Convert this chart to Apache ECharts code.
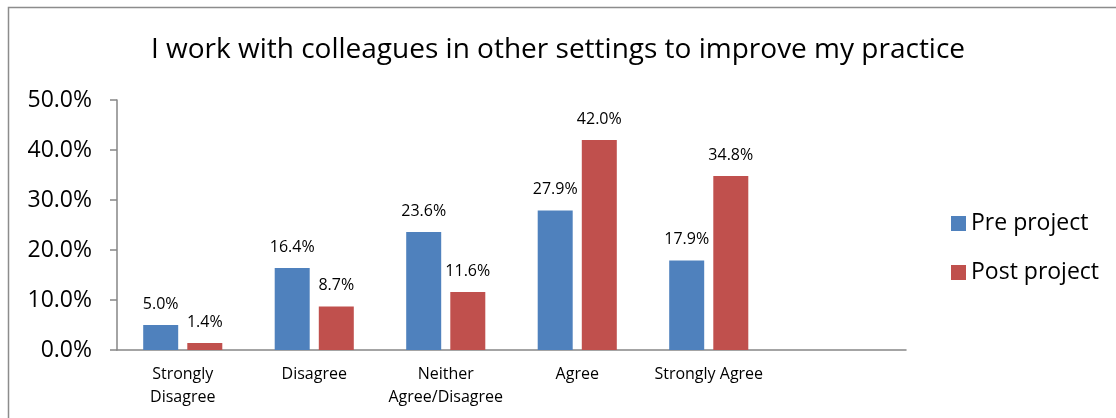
<!DOCTYPE html>
<html><head><meta charset="utf-8">
<script src="https://cdn.jsdelivr.net/npm/echarts@6/dist/echarts.min.js"></script>
<style>html,body{margin:0;padding:0;background:#fff}#c{width:1116px;height:418px}</style>
</head><body><div id="c"></div>
<script>
const categories = ['Strongly\nDisagree', 'Disagree', 'Neither\nAgree/Disagree', 'Agree', 'Strongly Agree', ''];
const preProject = [5.0, 16.4, 23.6, 27.9, 17.9];
const postProject = [1.4, 8.7, 11.6, 42.0, 34.8];
const yTicks = { min: 0, max: 50, interval: 10 };
const titleText = 'I work with colleagues in other settings to improve my practice';

const FONT = 'Open Sans';
const chart = echarts.init(document.getElementById('c'), null, { renderer: 'canvas' });
const labelOpt = {
  show: true, position: 'top', distance: 13,
  fontFamily: FONT, fontSize: 16, color: '#000',
  formatter: p => p.value.toFixed(1) + '%'
};
chart.setOption({
  animation: false,
  graphic: [{
    type: 'rect', shape: { x: 8.5, y: 7.5, width: 1300, height: 600 },
    style: { fill: 'none', stroke: '#8c8c8c', lineWidth: 1.5 }, silent: true
  }],
  title: {
    text: titleText, left: 'center', top: 31,
    textStyle: { fontFamily: FONT, fontSize: 28, fontWeight: 'normal', color: '#000' }
  },
  legend: {
    orient: 'vertical', left: 946, top: 207, itemWidth: 15, itemHeight: 15, itemGap: 26,
    icon: 'rect',
    textStyle: { fontFamily: FONT, fontSize: 23, color: '#000' },
    data: ['Pre project', 'Post project']
  },
  grid: { left: 117, right: 210, top: 100, bottom: 68, containLabel: false },
  xAxis: {
    type: 'category', data: categories,
    axisLine: { lineStyle: { color: '#868686', width: 1.5 } },
    axisTick: { show: false },
    axisLabel: { interval: 0, fontFamily: FONT, fontSize: 16, color: '#000', lineHeight: 23, margin: 13 }
  },
  yAxis: {
    type: 'value', min: yTicks.min, max: yTicks.max, interval: yTicks.interval,
    axisLine: { show: true, lineStyle: { color: '#868686', width: 1.5 } },
    axisTick: { show: true, length: 7, lineStyle: { color: '#868686', width: 1.5 } },
    splitLine: { show: false },
    axisLabel: { fontFamily: FONT, fontSize: 23, color: '#000', margin: 25, formatter: v => v.toFixed(1) + '%' }
  },
  series: [
    { name: 'Pre project', type: 'bar', data: preProject, barWidth: 35, barGap: '26%',
      itemStyle: { color: '#4F81BD' }, label: labelOpt },
    { name: 'Post project', type: 'bar', data: postProject, barWidth: 35, barGap: '26%',
      itemStyle: { color: '#C0504D' }, label: labelOpt }
  ]
});
</script></body></html>
